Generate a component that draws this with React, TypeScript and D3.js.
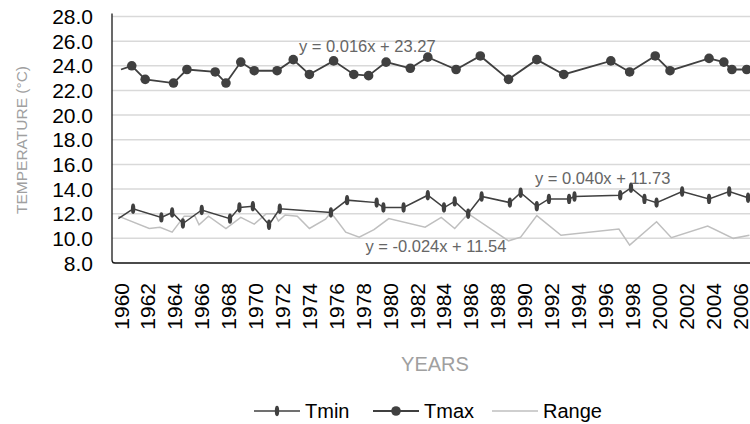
import * as d3 from 'd3'

// x axis tick labels and y axis ticks
const yearTicks = [1960, 1962, 1964, 1966, 1968, 1970, 1972, 1974, 1976, 1978, 1980, 1982,
  1984, 1986, 1988, 1990, 1992, 1994, 1996, 1998, 2000, 2002, 2004, 2006]
const tempTicks = [8, 10, 12, 14, 16, 18, 20, 22, 24, 26, 28]

// Tmax series
const tmaxYears = [1960.0, 1960.8, 1961.8, 1963.9, 1964.9, 1967.0, 1967.8, 1968.9, 1969.9, 1971.6,
  1972.8, 1974.0, 1975.8, 1977.3, 1978.4, 1979.7, 1981.5, 1982.8, 1984.9, 1986.7,
  1988.8, 1990.9, 1992.9, 1996.4, 1997.8, 1999.7, 2000.8, 2003.7, 2004.8, 2005.4, 2006.5]
const tmaxValues = [23.7, 24.0, 22.9, 22.6, 23.7, 23.5, 22.6, 24.3, 23.6, 23.6,
  24.5, 23.3, 24.4, 23.3, 23.2, 24.3, 23.8, 24.7, 23.7, 24.8,
  22.9, 24.5, 23.3, 24.4, 23.5, 24.8, 23.6, 24.6, 24.3, 23.7, 23.7]

// Tmin series
const tminYears = [1959.8, 1960.9, 1963.0, 1963.8, 1964.6, 1966.0, 1968.1, 1968.8, 1969.8, 1971.0,
  1971.8, 1975.6, 1976.8, 1979.0, 1979.5, 1981.0, 1982.8, 1984.0, 1984.8, 1985.8,
  1986.8, 1988.9, 1989.7, 1990.9, 1991.8, 1993.3, 1993.7, 1997.1, 1997.9, 1998.9,
  1999.8, 2001.7, 2003.7, 2005.2, 2006.6]
const tminValues = [11.6, 12.4, 11.7, 12.1, 11.2, 12.3, 11.6, 12.5, 12.6, 11.1,
  12.4, 12.1, 13.1, 12.9, 12.5, 12.5, 13.5, 12.5, 13.0, 12.0,
  13.4, 12.9, 13.7, 12.6, 13.2, 13.2, 13.4, 13.5, 14.1, 13.2,
  12.9, 13.8, 13.2, 13.8, 13.3]

// Range series
const rangeYears = [1959.8, 1962.1, 1962.9, 1963.8, 1964.7, 1965.5, 1965.8, 1966.5, 1967.8, 1968.9,
  1969.9, 1970.8, 1971.4, 1971.7, 1972.2, 1973.1, 1974.0, 1975.2, 1975.6, 1976.7,
  1977.7, 1978.8, 1979.9, 1982.6, 1983.8, 1984.8, 1985.8, 1988.8, 1989.7, 1990.9,
  1992.7, 1997.0, 1997.8, 1999.8, 2000.9, 2003.6, 2005.5, 2006.7]
const rangeValues = [11.8, 10.8, 10.9, 10.5, 11.8, 11.8, 11.1, 11.8, 10.8, 11.7,
  11.15, 12.0, 12.0, 11.4, 11.9, 11.8, 10.8, 11.55, 12.1, 10.5,
  10.1, 10.7, 11.6, 10.9, 11.7, 10.8, 12.0, 9.8, 10.1, 11.85,
  10.25, 10.75, 9.45, 11.35, 10.05, 11.0, 10.0, 10.25]

// trendline equations: text, anchor year, anchor temperature
const trendLabels = [
  { text: 'y = 0.016x + 23.27', year: 1978.3, temp: 25.6 },
  { text: 'y = 0.040x + 11.73', year: 1995.8, temp: 14.9 },
  { text: 'y = -0.024x + 11.54', year: 1983.4, temp: 9.4 },
]

const legendItems = ['Tmin', 'Tmax', 'Range']

const width = 750, height = 424
const plotLeft = 112, plotRight = 750
const font = '"Liberation Sans", Arial, sans-serif'
const dark = '#404040', light = '#bfbfbf'

const zip = (xs: number[], ys: number[]) => xs.map((d, i) => [d, ys[i]] as [number, number])

function App() {
  const x = d3.scaleLinear().domain([1960, 2006]).range([121, 740])
  const y = d3.scaleLinear().domain([8, 28]).range([263, 16.5])

  const line = d3.line<[number, number]>()
    .x(d => x(d[0]))
    .y(d => y(d[1]))

  const tmax = zip(tmaxYears, tmaxValues)
  const tmin = zip(tminYears, tminValues)
  const range = zip(rangeYears, rangeValues)

  const legendX = [254, 373, 492]

  return (
    <div style={{ position: 'absolute', left: 0, top: 0 }}>
      <svg width={width} height={height} style={{ display: 'block', background: '#fff' }} fontFamily={font}>
        <defs>
          <clipPath id='plot'>
            <rect x={plotLeft} y={0} width={plotRight - plotLeft} height={y(8) + 8} />
          </clipPath>
        </defs>

        {/* gridlines */}
        {tempTicks.map(t => (
          <line key={t} x1={plotLeft} x2={plotRight} y1={y(t)} y2={y(t)}
            stroke='#d9d9d9' strokeWidth={1.5} />
        ))}

        {/* axis frame */}
        <path d={`M${plotLeft},${y(28) - 3} V${y(8) - 3} Q${plotLeft},${y(8)} ${plotLeft + 3},${y(8)} H${plotRight}`}
          fill='none' stroke='#1a1a1a' strokeWidth={1.3} />

        {/* y tick labels */}
        {tempTicks.map(t => (
          <text key={t} x={93} y={y(t)} textAnchor='end' dominantBaseline='central'
            fontSize={21} fill='#000'>{t.toFixed(1)}</text>
        ))}

        {/* x tick labels */}
        {yearTicks.map(yr => (
          <text key={yr} transform={`translate(${x(yr)},283) rotate(-90)`} textAnchor='end'
            dominantBaseline='central' fontSize={21} fill='#000'>{yr}</text>
        ))}

        {/* axis titles */}
        <text transform={`translate(21,140) rotate(-90)`} textAnchor='middle' dominantBaseline='central'
          fontSize={15.5} fill='#a0a0a0'>TEMPERATURE (°C)</text>
        <text x={435} y={364} textAnchor='middle' dominantBaseline='central'
          fontSize={20} fill='#a0a0a0'>YEARS</text>

        <g clipPath='url(#plot)'>
          <path d={line(range) ?? ''} fill='none' stroke={light} strokeWidth={1.5} />
          <path d={line(tmin) ?? ''} fill='none' stroke={dark} strokeWidth={1.5} />
          {/* the first point of each series has no marker in the source */}
          {tmin.slice(1).map((d, i) => (
            <ellipse key={i} cx={x(d[0])} cy={y(d[1])} rx={2.2} ry={5.2} fill={dark} />
          ))}
          <path d={line(tmax) ?? ''} fill='none' stroke={dark} strokeWidth={1.8} />
          {tmax.slice(1).map((d, i) => (
            <circle key={i} cx={x(d[0])} cy={y(d[1])} r={4.8} fill={dark} />
          ))}
        </g>

        {/* trendline equations */}
        {trendLabels.map(l => (
          <text key={l.text} x={x(l.year)} y={y(l.temp)} textAnchor='middle' dominantBaseline='central'
            fontSize={16.5} fill='#666'>{l.text}</text>
        ))}

        {/* legend */}
        {legendItems.map((name, i) => {
          const lx = legendX[i], ly = 411
          return (
            <g key={name}>
              <line x1={lx} x2={lx + 46} y1={ly} y2={ly}
                stroke={name === 'Range' ? light : dark} strokeWidth={name === 'Tmax' ? 1.8 : 1.5} />
              {name === 'Tmin' && <ellipse cx={lx + 23} cy={ly} rx={2.2} ry={5.2} fill={dark} />}
              {name === 'Tmax' && <circle cx={lx + 23} cy={ly} r={4.8} fill={dark} />}
              <text x={lx + 51} y={ly} dominantBaseline='central' fontSize={20} fill='#000'>{name}</text>
            </g>
          )
        })}
      </svg>
    </div>
  )
}

export default App
